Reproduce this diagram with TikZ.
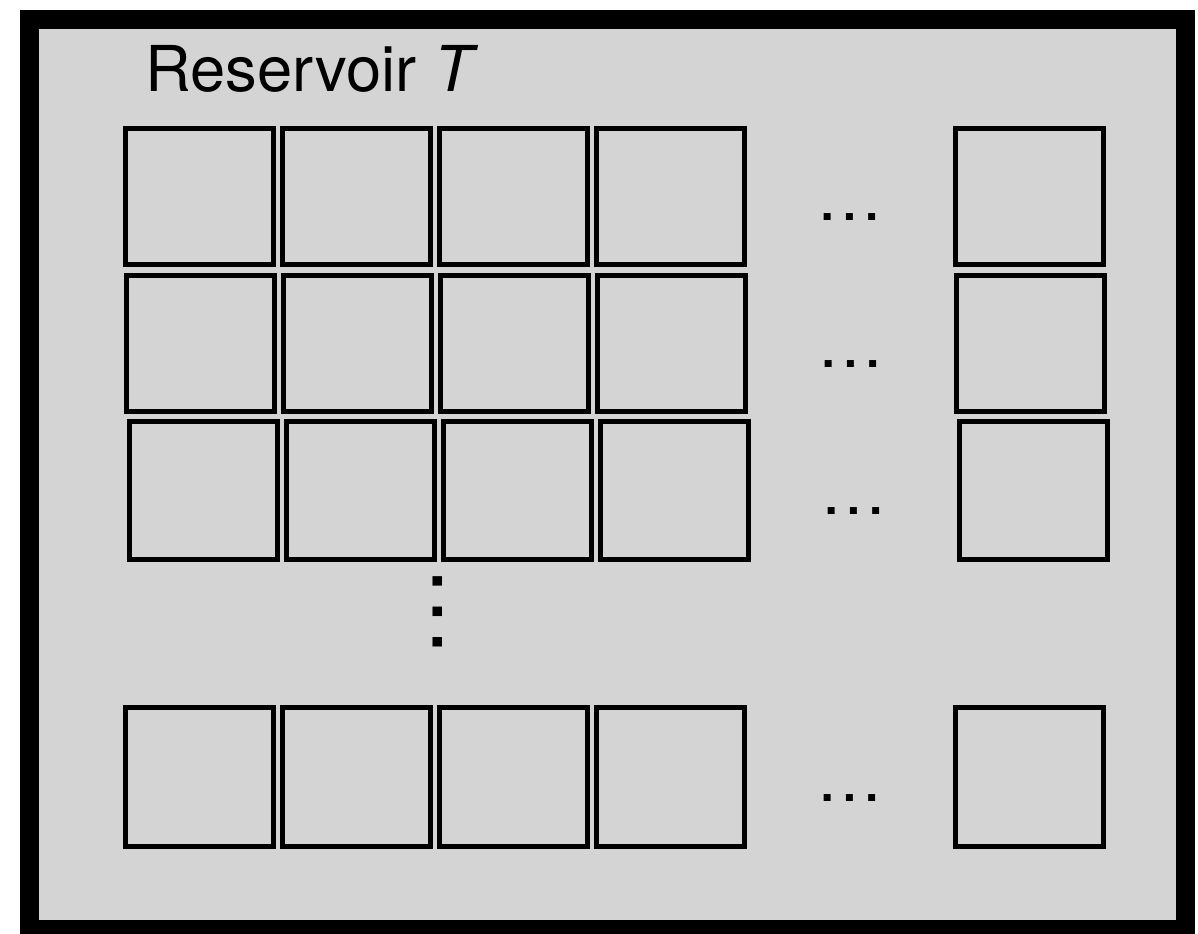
\documentclass[tikz,border=0pt]{standalone}
\usepackage{fontspec}
\setmainfont{TeX Gyre Heros}
\usetikzlibrary{positioning,calc}
\definecolor{reservoirgray}{RGB}{212,212,212}
\tikzset{
  cell/.style={draw=black,line width=0.5mm,minimum width=14.8mm,
    minimum height=13.6mm,inner sep=0pt},
  celldots/.style={font=\fontsize{19}{19}\selectfont,inner sep=0pt},
}

\begin{document}
\begin{tikzpicture}[x=0.1mm,y=-0.1mm]
\useasboundingbox (0,0) rectangle (1198,933);
\fill[white] (0,0) rectangle (1198,933);
% reservoir frame
\draw[line width=1.9mm,fill=reservoirgray] (29,19.5) rectangle (1185,929.5);
\node[anchor=base west,inner sep=0pt,font=\fontsize{18}{18}\selectfont]
  (title) at (145,91) {Reservoir \textit{T}};
% rows of cells: row / centre y / shift x / height
\foreach \r/\y/\dx/\h in {1/196.5/0/13.6,2/343.5/1/13.6,
                          3/490.5/3.5/13.8,4/777/0/13.9}{
  \foreach \c/\x in {1/199.5,2/356.5,3/513.5,4/670.5,5/1029.5}
    \node[cell,minimum height=\h mm] (cell-\r-\c) at (\x+\dx,\y) {};
  \node[celldots,anchor=base] (dots-\r)
    at ($(cell-\r-4)!0.5!(cell-\r-5)+(0,24)$) {…};
}
% more rows below
\node[celldots,font=\fontsize{26}{26}\selectfont,rotate=90]
  (vdots) at (438,611.5) {…};
\end{tikzpicture}
\end{document}
